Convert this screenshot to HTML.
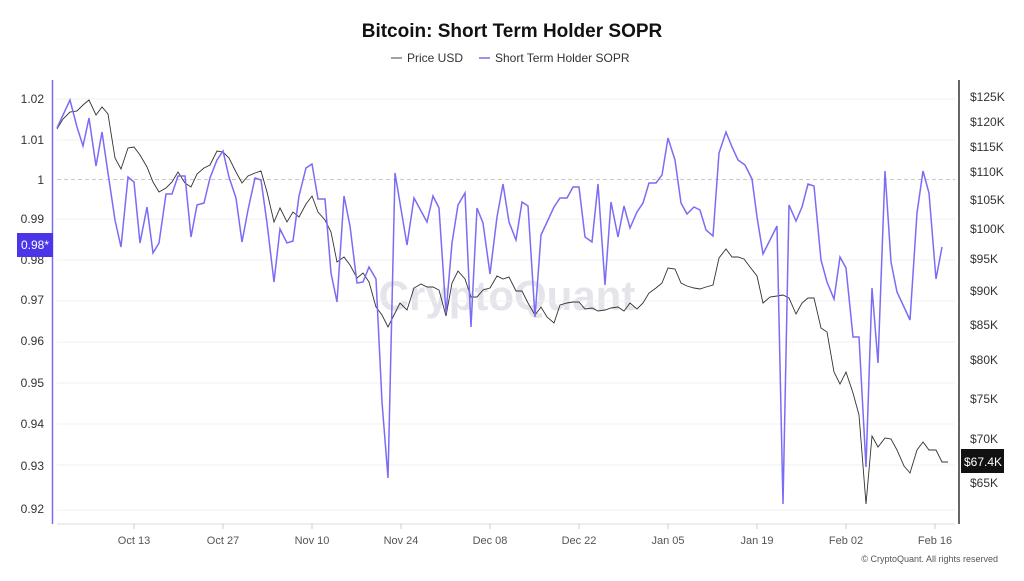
<!DOCTYPE html>
<html><head><meta charset="utf-8"><style>
body{margin:0;background:#fff;width:1024px;height:576px;overflow:hidden;font-family:"Liberation Sans",sans-serif}
</style></head><body>
<svg width="1024" height="576" xmlns="http://www.w3.org/2000/svg" font-family="Liberation Sans, sans-serif">
<text x="512" y="37" text-anchor="middle" font-size="19" font-weight="bold" fill="#111">Bitcoin: Short Term Holder SOPR</text>
<line x1="391" y1="58" x2="402" y2="58" stroke="#444" stroke-width="1"/>
<text x="407" y="62" font-size="12" fill="#333">Price USD</text>
<line x1="479" y1="58" x2="490" y2="58" stroke="#7b6cf6" stroke-width="1.5"/>
<text x="495" y="62" font-size="12" fill="#333">Short Term Holder SOPR</text>
<text x="507" y="310" text-anchor="middle" font-size="42" fill="#e4e4ea" font-weight="bold">CryptoQuant</text>
<g stroke="#f0f0f3" stroke-width="1">
<line x1="57" y1="99" x2="955" y2="99"/><line x1="57" y1="140" x2="955" y2="140"/><line x1="57" y1="219" x2="955" y2="219"/><line x1="57" y1="260" x2="955" y2="260"/><line x1="57" y1="301" x2="955" y2="301"/><line x1="57" y1="342" x2="955" y2="342"/><line x1="57" y1="383" x2="955" y2="383"/><line x1="57" y1="424" x2="955" y2="424"/><line x1="57" y1="465" x2="955" y2="465"/><line x1="57" y1="510" x2="955" y2="510"/>
</g>
<line x1="57" y1="179.5" x2="955" y2="179.5" stroke="#c8c8c8" stroke-dasharray="4,3"/>
<line x1="57" y1="524" x2="955" y2="524" stroke="#dcdce2"/>
<line x1="52.5" y1="80" x2="52.5" y2="524" stroke="#7b6cf6" stroke-width="1.5"/>
<line x1="959" y1="80" x2="959" y2="524" stroke="#333" stroke-width="1.5"/>
<g font-size="12" fill="#333" text-anchor="end">
<text x="44" y="103">1.02</text><text x="44" y="144">1.01</text><text x="44" y="184">1</text><text x="44" y="223">0.99</text><text x="44" y="264">0.98</text><text x="44" y="304">0.97</text><text x="44" y="345">0.96</text><text x="44" y="387">0.95</text><text x="44" y="428">0.94</text><text x="44" y="470">0.93</text><text x="44" y="513">0.92</text>
</g>
<rect x="17" y="233" width="36" height="24" fill="#4a36e8"/>
<text x="21" y="249" font-size="12" fill="#fff">0.98*</text>
<g font-size="12" fill="#333">
<text x="970" y="101">$125K</text><text x="970" y="126">$120K</text><text x="970" y="151">$115K</text><text x="970" y="176">$110K</text><text x="970" y="204">$105K</text><text x="970" y="233">$100K</text><text x="970" y="263">$95K</text><text x="970" y="295">$90K</text><text x="970" y="329">$85K</text><text x="970" y="364">$80K</text><text x="970" y="403">$75K</text><text x="970" y="443">$70K</text><text x="970" y="487">$65K</text>
</g>
<rect x="961" y="449" width="43" height="24" fill="#111"/>
<text x="964" y="466" font-size="12" fill="#fff">$67.4K</text>
<g font-size="11" fill="#555" text-anchor="middle">
<text x="134" y="544">Oct 13</text><text x="223" y="544">Oct 27</text><text x="312" y="544">Nov 10</text><text x="401" y="544">Nov 24</text><text x="490" y="544">Dec 08</text><text x="579" y="544">Dec 22</text><text x="668" y="544">Jan 05</text><text x="757" y="544">Jan 19</text><text x="846" y="544">Feb 02</text><text x="935" y="544">Feb 16</text>
</g>
<g stroke="#ccc"><line x1="134" y1="524" x2="134" y2="529"/><line x1="223" y1="524" x2="223" y2="529"/><line x1="312" y1="524" x2="312" y2="529"/><line x1="401" y1="524" x2="401" y2="529"/><line x1="490" y1="524" x2="490" y2="529"/><line x1="579" y1="524" x2="579" y2="529"/><line x1="668" y1="524" x2="668" y2="529"/><line x1="757" y1="524" x2="757" y2="529"/><line x1="846" y1="524" x2="846" y2="529"/><line x1="935" y1="524" x2="935" y2="529"/></g>
<text x="998" y="562" text-anchor="end" font-size="9" fill="#555">© CryptoQuant. All rights reserved</text>
<polyline fill="none" stroke="#333" stroke-width="0.9" points="57,129 63,119 70,112 77,111 83,105 89,100 96,115 102,107 108,114 115,158 121,169 128,148 134,147 140,155 147,167 153,182 159,192 166,188 172,182 178,172 185,183 191,187 197,174 204,168 210,165 217,151 223,152 229,158 236,172 242,183 248,176 255,173 261,171 267,192 274,222 280,208 287,222 293,212 299,217 306,204 312,196 318,212 325,220 331,232 337,262 344,257 350,265 357,278 363,273 369,282 376,307 382,315 388,327 395,313 400,303 407,310 414,288 421,284 427,287 433,287 439,290 446,316 452,283 458,271 465,279 471,297 477,297 483,290 490,288 497,276 503,279 509,277 516,291 522,291 528,303 535,315 541,307 547,317 554,323 560,305 567,303 573,302 579,302 585,309 592,308 598,311 605,310 611,308 618,307 624,311 630,303 637,309 643,303 649,293 656,288 662,283 668,268 675,269 681,283 687,286 694,288 700,289 706,287 713,285 719,258 726,249 732,257 738,257 744,259 750,267 757,276 763,303 770,297 777,296 783,295 789,298 796,314 802,303 808,298 814,298 821,328 827,332 834,372 840,384 846,372 853,393 859,415 866,504 872,436 878,447 885,438 891,439 897,450 904,466 910,473 917,450 923,442 929,450 936,450 942,462 948,462"/>
<polyline fill="none" stroke="#7b6cf6" stroke-width="1.5" points="57,128 70,100 77,127 83,146 89,118 96,166 102,132 108,173 115,220 121,247 128,177 134,182 140,243 147,207 153,253 159,243 166,194 172,194 178,176 185,176 191,237 197,205 204,203 210,178 217,160 223,151 229,177 236,198 242,242 248,210 255,178 261,180 267,223 274,282 280,229 287,243 293,241 299,196 306,168 312,164 318,199 325,199 331,273 337,302 344,196 350,226 357,283 363,282 369,267 376,279 382,402 388,478 395,173 400,203 407,245 414,198 427,222 433,196 439,208 446,313 452,243 458,205 465,193 471,327 477,208 483,223 490,274 497,217 503,184 509,222 516,240 522,202 528,206 535,317 541,235 554,207 560,198 567,198 573,187 579,187 585,237 592,242 598,184 605,285 611,202 618,237 624,206 630,228 637,212 643,203 649,183 656,183 662,175 668,138 675,160 681,203 687,214 694,207 700,210 706,230 713,236 719,153 726,132 732,147 738,160 745,165 752,179 757,217 763,254 770,240 777,226 783,504 789,205 796,221 802,207 808,184 814,186 821,260 827,282 834,299 840,257 846,268 853,337 859,337 866,467 872,288 878,363 885,171 891,262 897,292 904,307 910,320 917,213 923,171 929,193 936,279 942,247"/>
</svg>
</body></html>
